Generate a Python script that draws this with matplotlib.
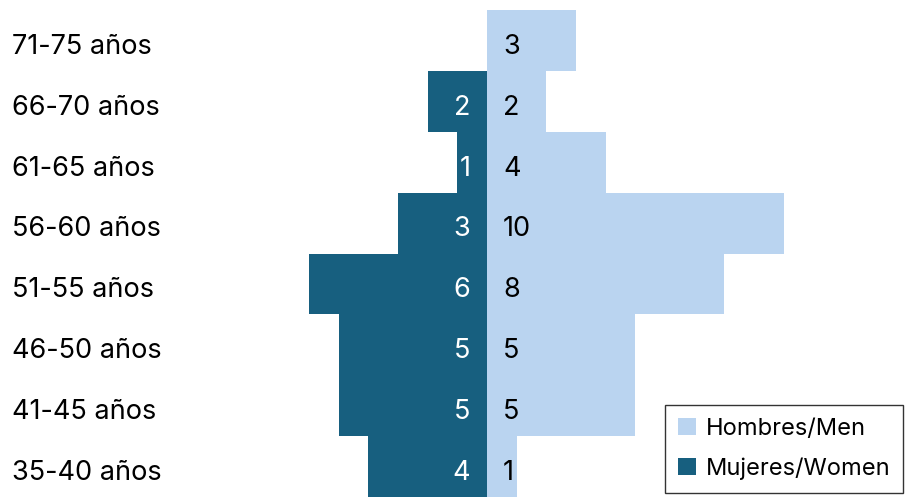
import matplotlib
matplotlib.use("Agg")
import matplotlib.pyplot as plt
from matplotlib.patches import Patch

plt.rcParams['font.family'] = ['Inter', 'DejaVu Sans']

categories = ["35-40 años", "41-45 años", "46-50 años", "51-55 años",
              "56-60 años", "61-65 años", "66-70 años", "71-75 años"]
men = [1, 5, 5, 8, 10, 4, 2, 3]
women = [4, 5, 5, 6, 3, 1, 2, 0]

men_color = "#BAD4F0"
women_color = "#175F7F"

fig = plt.figure(figsize=(9.06, 4.97), dpi=100)
W, H = 906, 497
left_px, right_px, top_px, bot_px = 170, 906, 10, 0
ax = fig.add_axes([left_px / W, bot_px / H, (right_px - left_px) / W, (H - top_px - bot_px) / H])

y = list(range(len(categories)))
ax.barh(y, men, height=1.0, color=men_color, label="Hombres/Men")
ax.barh(y, [-w for w in women], height=1.0, color=women_color, label="Mujeres/Women")

ppu = 29.65
center_px = 487
ax.set_xlim(-(center_px - left_px) / ppu, (right_px - center_px) / ppu)
ax.set_ylim(-0.5, len(categories) - 0.5)

base_off = -9.6  # points: baseline below row centre
fs = 19.5
for i, (m, w) in enumerate(zip(men, women)):
    ax.annotate(str(m), xy=(0, i), xytext=(11.5, base_off), textcoords='offset points',
                ha='left', va='baseline', fontsize=fs, color='black')
    if w > 0:
        ax.annotate(str(w), xy=(0, i), xytext=(-12, base_off), textcoords='offset points',
                    ha='right', va='baseline', fontsize=fs, color='white')

# category labels (left aligned, as y-axis labels)
ax.set_yticks(y)
ax.set_yticklabels([])
ax.tick_params(axis='y', length=0)
for i, cat in enumerate(categories):
    ax.annotate(cat, xy=(12, i), xycoords=('figure pixels', 'data'),
                xytext=(0, base_off), textcoords='offset points',
                ha='left', va='baseline', fontsize=fs, color='black',
                annotation_clip=False)

ax.set_xticks([])
for s in ax.spines.values():
    s.set_visible(False)

handles = [Patch(facecolor=men_color, label="Hombres/Men"),
           Patch(facecolor=women_color, label="Mujeres/Women")]
leg = fig.legend(handles=handles, loc='lower right', bbox_to_anchor=(903 / W, 4 / H),
                 fontsize=17, frameon=True, fancybox=False, edgecolor='black',
                 handlelength=0.75, handleheight=0.75, handletextpad=0.4,
                 labelspacing=0.75, borderpad=0.55, borderaxespad=0)
leg.get_frame().set_linewidth(1.0)

fig.savefig("out.png", dpi=100)
